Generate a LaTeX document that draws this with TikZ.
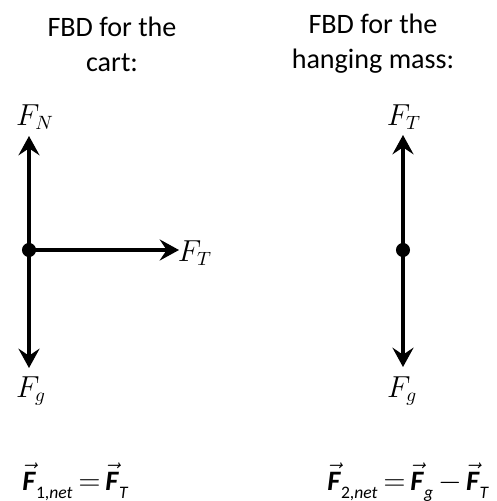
\documentclass[tikz,border=0pt]{standalone}
\usepackage{amsmath}
\usepackage{fontspec}
\setmainfont{Carlito}
\usetikzlibrary{arrows.meta}
\newcommand{\ArrTip}{Stealth[length=11pt,width=12pt,inset=4pt]}
\newcommand{\vecF}{\vec{\textbf{\textit{F}}}}
\newcommand{\subtxt}[1]{_{\raisebox{-2.5pt}{\fontsize{10}{12}\selectfont#1}}}
\newcommand{\tightmath}{\thickmuskip=3mu\relax\medmuskip=2.5mu\relax}
\tikzset{force/.style={line width=1.8pt,-{\ArrTip}}}
\tikzset{pt/.style={circle,fill,inner sep=0pt,minimum size=8pt}}

\begin{document}
\begin{tikzpicture}[x=0.02cm,y=-0.02cm]
\useasboundingbox(0,0)rectangle(497,501);
\begin{scope}[align=center,font=\fontsize{16}{20}\selectfont]
\node(ttl1)at(112,44){FBD for the\\cart:};\node(ttl2)at(373,44){FBD for the\\hanging mass:};
\end{scope}
% cart
\node(cart)[pt]at(29,250){};
\coordinate(cN)at(29,136);\coordinate(cG)at(29,368);\coordinate(cT)at(179,250);
\draw[force](cart.center)--(cN);\draw[force](cart.center)--(cG);\draw[force](cart.center)--(cT);
% hanging mass
\node(mass)[pt]at(403,250){};
\coordinate(mT)at(403,135);\coordinate(mG)at(403,367);
\draw[force](mass.center)--(mT);\draw[force](mass.center)--(mG);
\begin{scope}[font=\fontsize{16}{19}\selectfont]
\node(lN)at(35,117){$F_N$};\node(lT1)at(195,253){$F_T$};\node(lG1)at(31,391){$F_g$};
\node(lT2)at(404,117){$F_T$};\node(lG2)at(402,391){$F_g$};
\end{scope}
\begin{scope}[font=\fontsize{16}{19}\selectfont]
\node(eq1)[anchor=base west,inner sep=0pt]at(22,490){$\tightmath\vecF\subtxt{1,\textit{net}}=\vecF\subtxt{\textit{T}}$};
\node(eq2)[anchor=base west,inner sep=0pt]at(327,490){$\tightmath\vecF\subtxt{2,\textit{net}}=\vecF\subtxt{\textit{g}}-\vecF\subtxt{\textit{T}}$};
\end{scope}
\end{tikzpicture}
\end{document}
